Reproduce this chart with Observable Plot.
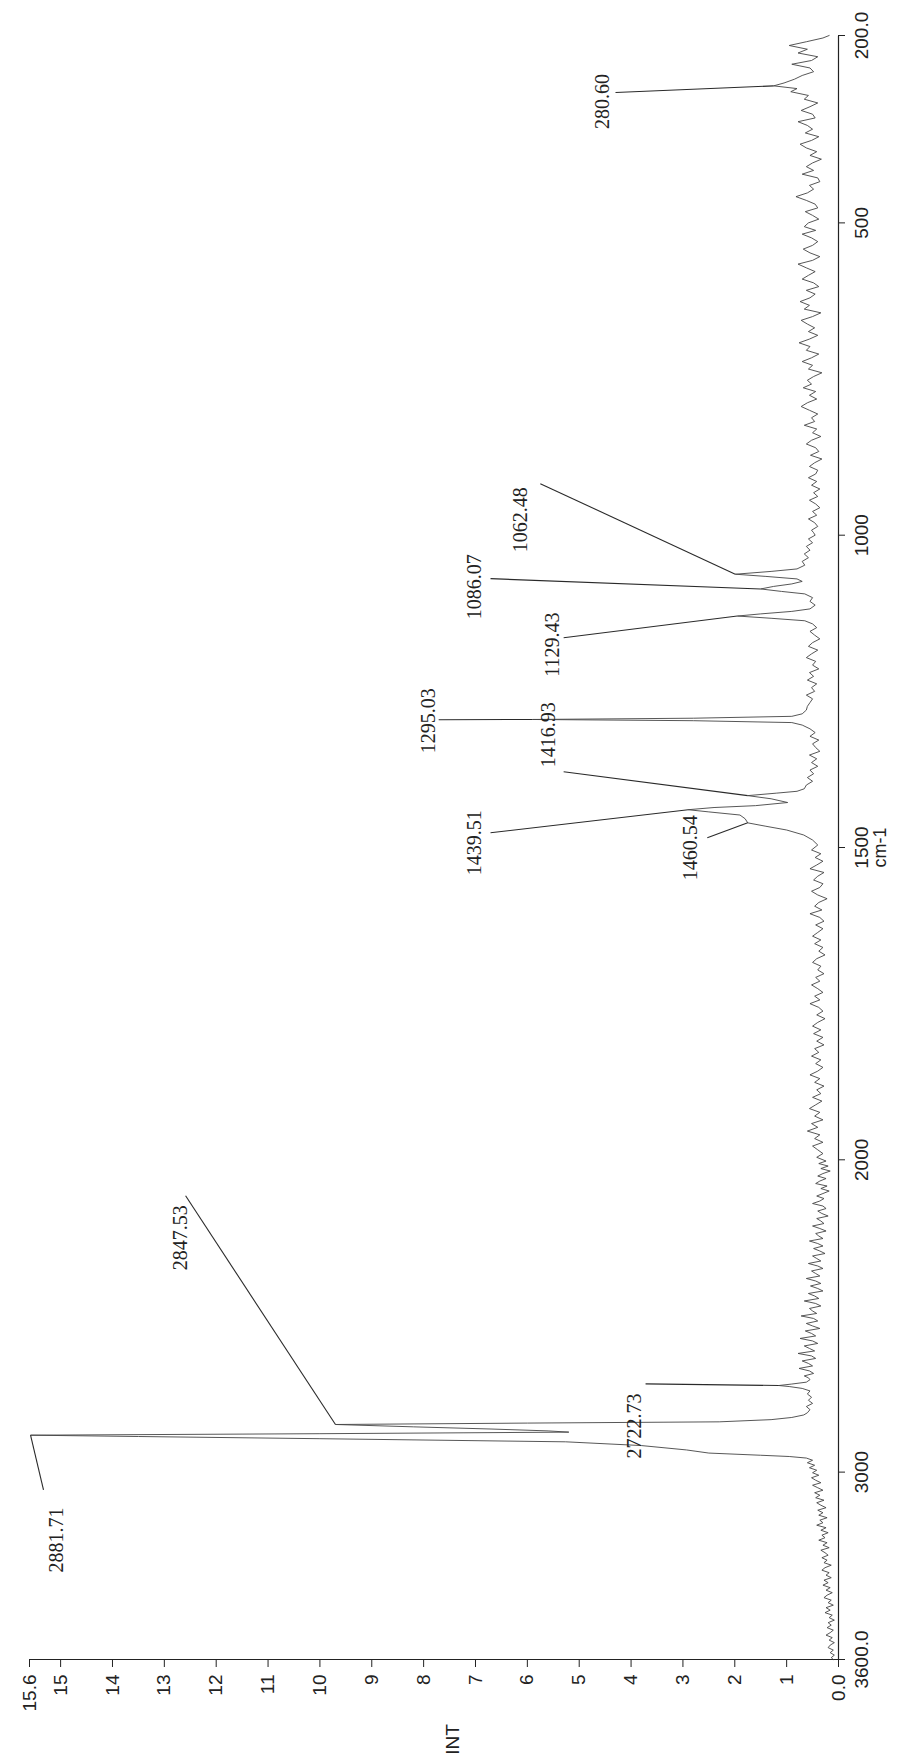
<!DOCTYPE html>
<html><head><meta charset="utf-8">
<script src="https://cdn.jsdelivr.net/npm/d3@7"></script>
<script src="https://cdn.jsdelivr.net/npm/@observablehq/plot@0.6"></script>
<style>
html,body{margin:0;padding:0;background:#fff;overflow:hidden;width:915px;height:1761px;}
#rot{position:absolute;left:0;top:0;width:1761px;height:915px;transform-origin:0 0;transform:translate(0px,1761px) rotate(-90deg);}
</style></head><body><div id="rot"></div>
<script>
// Raman spectrum (wavenumber cm-1, INT)
const specLow = [[200,0.18],[204,0.30],[210,0.62],[216,0.95],[222,0.60],[228,0.78],[234,0.40],[240,0.52],[246,0.90],[252,0.55],[258,0.48],[264,0.70],[270,0.85],[276,1.05],[280.6,1.25],[285,0.80],[290,0.92],[296,0.58],[302,0.66],[308,0.40],[314,0.55],[320,0.72],[326,0.50],[332,0.45],[338,0.78],[344,0.60],[350,0.50],[356,0.64],[362,0.38],[368,0.52],[374,0.74],[380,0.62],[386,0.42],[392,0.55],[398,0.33],[404,0.50],[410,0.62],[416,0.48],[422,0.70],[428,0.40],[434,0.36],[440,0.56],[446,0.48],[452,0.60],[458,0.82],[464,0.62],[470,0.45],[476,0.40],[482,0.64],[488,0.50],[494,0.38],[500,0.58],[506,0.66],[512,0.44],[518,0.70],[524,0.52],[530,0.40],[536,0.50],[542,0.68],[548,0.55],[554,0.36],[560,0.50],[566,0.78],[572,0.62],[578,0.45],[584,0.58],[590,0.70],[596,0.48],[602,0.38],[608,0.62],[614,0.45],[620,0.55],[626,0.74],[632,0.56],[638,0.66],[644,0.34],[650,0.50],[656,0.72],[662,0.60],[668,0.46],[674,0.58],[680,0.40],[686,0.56],[692,0.76],[698,0.55],[704,0.62],[710,0.38],[716,0.52],[722,0.70],[728,0.50],[734,0.58],[740,0.32],[746,0.48],[752,0.60],[758,0.52],[764,0.68],[770,0.44],[776,0.56],[782,0.42],[788,0.60],[794,0.72],[800,0.56],[806,0.40],[812,0.52],[818,0.46],[824,0.66],[830,0.42],[836,0.50],[842,0.34],[848,0.52],[854,0.62],[860,0.44],[866,0.38],[872,0.54],[878,0.32],[884,0.46],[890,0.56],[896,0.40],[902,0.44],[908,0.58],[914,0.42],[920,0.52],[926,0.36],[932,0.48],[938,0.40],[944,0.56],[950,0.44],[956,0.36],[962,0.50],[968,0.42],[974,0.58],[980,0.46],[986,0.40],[992,0.52],[996,0.48]];
const specFinger = [[1000,0.45],[1006,0.58],[1012,0.50],[1018,0.62],[1024,0.55],[1030,0.66],[1036,0.58],[1042,0.70],[1048,0.65],[1054,0.80],[1058,1.30],[1062.48,1.99],[1066,1.40],[1070,0.80],[1074,0.70],[1078,0.90],[1082,1.25],[1086.07,1.50],[1090,1.10],[1094,0.65],[1100,0.50],[1106,0.55],[1112,0.45],[1118,0.55],[1122,0.90],[1126,1.50],[1129.43,1.95],[1133,1.30],[1137,0.65],[1142,0.50],[1148,0.42],[1154,0.55],[1160,0.46],[1166,0.36],[1172,0.50],[1178,0.58],[1184,0.40],[1190,0.52],[1196,0.62],[1202,0.44],[1208,0.50],[1214,0.38],[1220,0.56],[1226,0.48],[1232,0.60],[1238,0.42],[1244,0.52],[1250,0.46],[1256,0.62],[1262,0.50],[1268,0.55],[1274,0.60],[1280,0.62],[1286,0.70],[1290,0.90],[1293,2.80],[1295.03,5.90],[1297,2.80],[1300,0.90],[1304,0.70],[1310,0.55],[1316,0.45],[1322,0.55],[1328,0.38],[1334,0.50],[1340,0.44],[1346,0.36],[1352,0.56],[1358,0.42],[1364,0.52],[1370,0.40],[1376,0.55],[1382,0.48],[1388,0.60],[1394,0.50],[1400,0.62],[1406,0.66],[1410,0.80],[1413,1.20],[1416.93,1.75],[1422,1.30],[1428,0.98],[1433,1.60],[1436,2.40],[1439.51,2.90],[1443,2.50],[1448,1.90],[1454,1.80],[1460.54,1.75],[1466,1.40],[1472,1.00],[1480,0.67],[1488,0.50],[1496,0.40]];
const specMid = [[1504,0.52],[1510,0.34],[1516,0.45],[1522,0.30],[1528,0.42],[1534,0.55],[1540,0.28],[1546,0.40],[1552,0.48],[1558,0.30],[1564,0.36],[1570,0.52],[1576,0.40],[1582,0.22],[1588,0.38],[1594,0.46],[1600,0.32],[1606,0.55],[1612,0.36],[1618,0.28],[1624,0.44],[1630,0.30],[1636,0.40],[1642,0.50],[1648,0.34],[1654,0.46],[1660,0.30],[1666,0.38],[1672,0.26],[1678,0.42],[1684,0.50],[1690,0.34],[1696,0.40],[1702,0.28],[1708,0.44],[1714,0.36],[1720,0.52],[1726,0.40],[1732,0.30],[1738,0.46],[1744,0.36],[1750,0.55],[1756,0.38],[1762,0.30],[1768,0.42],[1774,0.26],[1780,0.40],[1786,0.50],[1792,0.34],[1798,0.48],[1804,0.30],[1810,0.42],[1816,0.28],[1822,0.46],[1828,0.38],[1834,0.52],[1840,0.34],[1846,0.44],[1852,0.30],[1858,0.40],[1864,0.55],[1870,0.36],[1876,0.46],[1882,0.28],[1888,0.42],[1894,0.34],[1900,0.50],[1906,0.32],[1912,0.44],[1918,0.56],[1924,0.36],[1930,0.46],[1936,0.30],[1942,0.52],[1948,0.40],[1954,0.60],[1960,0.36],[1966,0.46],[1972,0.30],[1978,0.50],[1984,0.40],[1990,0.30],[1996,0.42],[2004,0.24],[2012,0.38],[2020,0.20],[2028,0.34],[2036,0.16],[2044,0.30],[2052,0.40],[2060,0.24],[2068,0.36],[2076,0.44],[2084,0.22],[2092,0.34],[2100,0.18],[2108,0.30],[2116,0.42],[2124,0.28],[2132,0.36],[2140,0.50],[2148,0.30],[2156,0.24],[2164,0.40],[2172,0.32],[2180,0.20],[2188,0.42],[2196,0.34],[2204,0.28],[2212,0.50],[2220,0.36],[2228,0.24],[2236,0.44],[2244,0.38],[2252,0.30],[2260,0.56],[2268,0.40],[2276,0.30],[2284,0.48],[2292,0.36],[2300,0.26],[2308,0.50],[2316,0.42],[2324,0.34],[2332,0.58],[2340,0.40],[2348,0.30],[2356,0.52],[2364,0.44],[2372,0.36],[2380,0.62],[2388,0.44],[2396,0.34],[2404,0.54],[2412,0.40],[2420,0.30],[2428,0.58],[2436,0.46],[2444,0.38],[2452,0.66],[2460,0.44],[2468,0.34],[2476,0.56],[2484,0.50],[2492,0.42],[2500,0.72],[2508,0.48],[2516,0.40],[2524,0.62],[2532,0.50],[2540,0.36],[2548,0.64],[2556,0.52],[2564,0.44],[2572,0.74],[2580,0.50],[2588,0.40],[2596,0.66],[2604,0.56],[2612,0.46],[2620,0.78],[2628,0.52],[2636,0.44],[2644,0.70],[2652,0.58],[2660,0.50],[2668,0.76],[2676,0.56],[2684,0.48],[2692,0.66],[2698,0.58]];
const specCH = [[2704,0.55],[2712,0.62],[2718,0.90],[2722.73,1.15],[2726,0.95],[2732,0.70],[2740,0.55],[2750,0.60],[2760,0.52],[2770,0.58],[2780,0.50],[2790,0.62],[2800,0.55],[2810,0.60],[2817,0.67],[2825,0.90],[2832,1.30],[2839,2.30],[2843,6.00],[2847.53,9.70],[2855,8.20],[2862,6.70],[2868,5.60],[2872,5.20],[2877,10.0],[2881.71,15.58],[2886,13.5],[2893,10.0],[2903,5.26],[2915,3.80],[2929,2.93],[2939,2.50],[2946,1.50],[2950,0.95],[2955,0.62],[2962,0.50]];
const specHigh = [[2970,0.60],[2978,0.46],[2986,0.56],[2994,0.42],[3002,0.50],[3010,0.38],[3018,0.52],[3026,0.44],[3034,0.34],[3042,0.50],[3050,0.40],[3058,0.30],[3066,0.46],[3074,0.36],[3082,0.44],[3090,0.28],[3098,0.42],[3106,0.34],[3114,0.24],[3122,0.40],[3130,0.30],[3138,0.38],[3146,0.22],[3154,0.36],[3162,0.30],[3170,0.42],[3178,0.24],[3186,0.34],[3194,0.20],[3202,0.32],[3210,0.26],[3218,0.38],[3226,0.22],[3234,0.30],[3242,0.18],[3250,0.34],[3258,0.26],[3266,0.20],[3274,0.32],[3282,0.22],[3290,0.28],[3298,0.14],[3306,0.26],[3314,0.32],[3322,0.18],[3330,0.24],[3338,0.14],[3346,0.28],[3354,0.20],[3362,0.30],[3370,0.16],[3378,0.24],[3386,0.12],[3394,0.22],[3402,0.28],[3410,0.14],[3418,0.20],[3426,0.10],[3434,0.24],[3442,0.16],[3450,0.26],[3458,0.12],[3466,0.18],[3474,0.08],[3482,0.20],[3490,0.14],[3498,0.22],[3506,0.10],[3514,0.16],[3522,0.24],[3530,0.12],[3538,0.18],[3546,0.08],[3554,0.16],[3562,0.20],[3570,0.10],[3578,0.16],[3586,0.08],[3594,0.14],[3600,0.10]];

// peak annotations
const peakLabels = ["280.60","1062.48","1086.07","1129.43","1295.03","1416.93","1439.51","1460.54","2722.73","2847.53","2881.71"];
const peakWn     = [280.6, 1062.48, 1086.07, 1129.43, 1295.03, 1416.93, 1439.51, 1460.54, 2722.73, 2847.53, 2881.71];
const peakInt    = [1.25, 1.99, 1.50, 1.95, 5.90, 1.75, 2.90, 1.75, 1.15, 9.70, 15.58];
const leaderWn   = [291.3, 917.5, 1069.6, 1164.1, 1295.4, 1378.7, 1476.4, 1484.4, 2717.5, 2115.3, 3057.0];
const leaderInt  = [4.30, 5.75, 6.71, 5.30, 7.71, 5.30, 6.71, 2.53, 3.72, 12.59, 15.33];
const textWn     = [305.7, 975.1, 1082.4, 1175.3, 1297.0, 1319.5, 1492.4, 1500.4, 2852.0, 2249.8, 3217.2];
const textInt    = [4.55, 6.13, 7.02, 5.51, 7.91, 5.59, 7.02, 2.85, 3.93, 12.69, 15.08];

// axes
const xTickValues = [3600, 3000, 2000, 1500, 1000, 500, 200];
const xTickLabels = ["3600.0", "3000", "2000", "1500", "1000", "500", "200.0"];
const yTickValues = [0,1,2,3,4,5,6,7,8,9,10,11,12,13,14,15,15.6];
const yTickLabels = ["0.0","1","2","3","4","5","6","7","8","9","10","11","12","13","14","15","15.6"];
const xAxisTitle = ["cm-1"];
const yAxisTitle = ["INT"];

// instrument axis: above 2000 cm-1 the scale is compressed by half
const axisBreak = 2000, highCompression = 0.5;
const warp = wn => wn <= axisBreak ? wn : axisBreak + (wn - axisBreak) * highCompression;

const spectrum = [...specLow, ...specFinger, ...specMid, ...specCH, ...specHigh].map(([wn, v]) => ({wn, v}));
const idx = d3.range(peakLabels.length);

const chart = Plot.plot({
  width: 1761, height: 915,
  marginTop: 29, marginBottom: 77, marginLeft: 101, marginRight: 36,
  style: {background: "#fff", color: "#222", fontFamily: "'Liberation Sans', Arial, sans-serif", fontSize: "19px"},
  x: {type: "linear", transform: warp, domain: [warp(3600), warp(200)], range: [101, 1725],
      ticks: xTickValues.map(warp),
      tickFormat: d => xTickLabels[xTickValues.map(warp).indexOf(d)], tickSize: 7, tickPadding: 9, label: null},
  y: {domain: [0, 15.6], range: [838, 29], ticks: yTickValues,
      tickFormat: d => yTickLabels[yTickValues.indexOf(d)], tickSize: 7, tickPadding: 8, label: null},
  marks: [
    Plot.ruleY([0], {x1: 3600, x2: 200, stroke: "#222", strokeWidth: 1.2}),
    Plot.ruleX([3600], {y1: 0, y2: 15.6, stroke: "#222", strokeWidth: 1.2}),
    Plot.line(spectrum, {x: "wn", y: "v", stroke: "#444", strokeWidth: 0.9}),
    Plot.link(idx, {x1: i => peakWn[i], y1: i => peakInt[i], x2: i => leaderWn[i], y2: i => leaderInt[i], stroke: "#2a2a2a", strokeWidth: 1.1}),
    Plot.text(idx, {x: i => textWn[i], y: i => textInt[i], text: i => peakLabels[i], fontFamily: "'Liberation Serif', 'Times New Roman', serif", fontSize: 20, fill: "#222"}),
    Plot.text(xAxisTitle, {x: () => 1500, y: () => 0, dy: 42, text: d => d, fontSize: 18, fill: "#222"}),
    Plot.text(yAxisTitle, {frameAnchor: "left", y: () => 7.44, dx: -80, textAnchor: "middle", text: d => d, fontSize: 19, fill: "#222"})
  ]
});
document.getElementById("rot").appendChild(chart);
</script></body></html>
